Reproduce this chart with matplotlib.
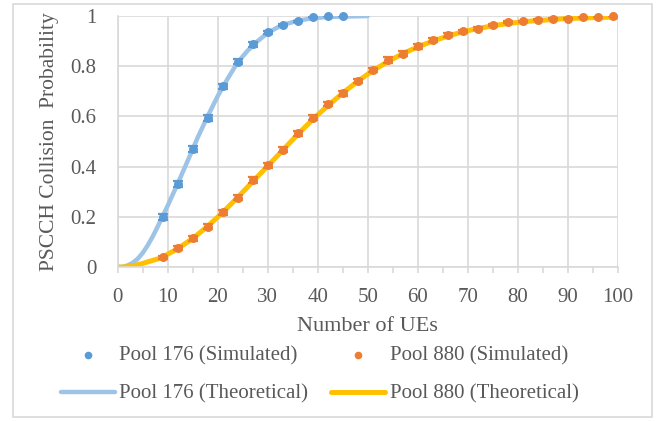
import matplotlib
matplotlib.use("Agg")
import matplotlib.pyplot as plt
from matplotlib.patches import FancyBboxPatch

# ---- data ----
sim176_x = [9, 12, 15, 18, 21, 24, 27, 30, 33, 36, 39, 42, 45]
sim176_y = [0.201, 0.331, 0.470, 0.595, 0.720, 0.818, 0.888, 0.935, 0.965, 0.979, 0.995, 1.0, 1.0]
sim176_err = [0.012, 0.012, 0.012, 0.012, 0.010, 0.010, 0.010, 0.006, 0.004, 0.003, 0.0, 0.0, 0.0]

sim880_x = [9, 12, 15, 18, 21, 24, 27, 30, 33, 36, 39, 42, 45, 48, 51, 54, 57, 60,
            63, 66, 69, 72, 75, 78, 81, 84, 87, 90, 93, 96, 99]
sim880_y = [0.039, 0.075, 0.115, 0.161, 0.219, 0.275, 0.345, 0.405, 0.467, 0.532,
            0.594, 0.650, 0.693, 0.742, 0.783, 0.824, 0.849, 0.879, 0.903, 0.926,
            0.939, 0.949, 0.966, 0.975, 0.979, 0.986, 0.990, 0.990, 0.995, 0.995, 1.0]
sim880_err = [0.006, 0.008, 0.010, 0.010, 0.010, 0.010, 0.012, 0.010, 0.010, 0.010,
              0.010, 0.008, 0.010, 0.008, 0.008, 0.012, 0.010, 0.010, 0.008, 0.008,
              0.006, 0.006, 0.004, 0.004, 0.003, 0.003, 0.002, 0.002, 0.0, 0.0, 0.0]

theo176_x = [0, 1, 2, 3, 4, 5, 6, 7, 8, 9, 10, 12, 14, 16, 18, 20, 22, 24, 26, 28,
             30, 32, 34, 36, 38, 40, 42, 45, 48, 50]
theo176_y = [0.0, 0.0, 0.006, 0.016, 0.032, 0.055, 0.085, 0.120, 0.160, 0.201, 0.243,
             0.331, 0.422, 0.515, 0.600, 0.680, 0.750, 0.815, 0.862, 0.900, 0.932,
             0.955, 0.970, 0.981, 0.988, 0.993, 0.996, 0.998, 0.999, 1.0]

theo880_x = [0, 1, 2, 3, 4, 5, 6, 7, 8, 9, 12, 15, 18, 21, 24, 27, 30, 33, 36, 39,
             42, 45, 48, 51, 54, 57, 60, 63, 66, 69, 72, 75, 78, 81, 84, 87, 90, 93,
             96, 100]
theo880_y = [0.0, 0.0, 0.001, 0.004, 0.009, 0.014, 0.020, 0.026, 0.032, 0.039, 0.073,
             0.113, 0.162, 0.217, 0.277, 0.340, 0.402, 0.465, 0.528, 0.588, 0.642,
             0.693, 0.740, 0.782, 0.818, 0.850, 0.877, 0.900, 0.920, 0.937, 0.950,
             0.961, 0.970, 0.977, 0.982, 0.986, 0.990, 0.992, 0.994, 0.996]

x_ticks = [0, 10, 20, 30, 40, 50, 60, 70, 80, 90, 100]
y_ticks = [0, 0.2, 0.4, 0.6, 0.8, 1.0]
y_tick_labels = ["0", "0.2", "0.4", "0.6", "0.8", "1"]

# ---- style ----
plt.rcParams['font.family'] = ['Liberation Serif', 'DejaVu Serif']
text_col = '#595959'
grid_col = '#D9D9D9'
c_sim176 = '#5B9BD5'
c_sim880 = '#ED7D31'
c_theo176 = '#9DC3E6'
c_theo880 = '#FFC000'

fig = plt.figure(figsize=(6.6, 4.21), dpi=100)
fig.patches.append(FancyBboxPatch((13 / 660, 4 / 421), 639 / 660, 413 / 421,
                                  boxstyle="square,pad=0", transform=fig.transFigure,
                                  facecolor='white', edgecolor=grid_col, linewidth=1.2,
                                  zorder=-1))
ax = fig.add_axes([117.5 / 660, (421 - 267) / 421, 500.5 / 660, 251 / 421])

l176, = ax.plot(theo176_x, theo176_y, color=c_theo176, lw=3.2, zorder=2,
                label='Pool 176 (Theoretical)', solid_capstyle='round')
l880, = ax.plot(theo880_x, theo880_y, color=c_theo880, lw=3.6, zorder=2,
                label='Pool 880 (Theoretical)', solid_capstyle='round')
ax.errorbar(sim176_x, sim176_y, yerr=sim176_err, fmt='none', ecolor=c_sim176,
            elinewidth=1.2, capsize=3.5, capthick=1.6, zorder=3)
ax.errorbar(sim880_x, sim880_y, yerr=sim880_err, fmt='none', ecolor=c_sim880,
            elinewidth=1.2, capsize=3.5, capthick=1.6, zorder=3)
s176 = ax.scatter(sim176_x, sim176_y, s=42, color=c_sim176, zorder=4, linewidths=0,
                  label='Pool 176 (Simulated)', clip_on=False)
s880 = ax.scatter(sim880_x, sim880_y, s=42, color=c_sim880, zorder=4, linewidths=0,
                  label='Pool 880 (Simulated)', clip_on=False)

ax.set_xlim(0, 100)
ax.set_ylim(0, 1)
ax.set_xticks(x_ticks)
ax.set_xticks([5, 15, 25, 35, 45, 55, 65, 75, 85, 95], minor=True)
ax.set_yticks(y_ticks)
ax.set_yticklabels(y_tick_labels)
ax.grid(True, which='major', color=grid_col, lw=1.2)
ax.set_axisbelow(True)
for side in ['top', 'right']:
    ax.spines[side].set_visible(False)
for side in ['left', 'bottom']:
    ax.spines[side].set_color(grid_col)
    ax.spines[side].set_linewidth(1.2)
ax.tick_params(axis='x', which='both', direction='out', length=4, color=grid_col,
               width=1.2, labelsize=15, labelcolor=text_col, pad=11)
ax.tick_params(axis='y', which='both', length=0, labelsize=15, labelcolor=text_col, pad=15)

ax.set_xlabel('Number of UEs', fontsize=16, color=text_col, labelpad=7)
ax.set_ylabel('PSCCH Collision  Probability', fontsize=15.5, color=text_col, labelpad=8)

leg = fig.legend(handles=[s176, l176, s880, l880], ncol=2, loc='center left',
                 bbox_to_anchor=(61 / 660, (421 - 375) / 421), frameon=False,
                 fontsize=15, labelcolor=text_col, handlelength=2.6,
                 handletextpad=0.2, columnspacing=1.1, labelspacing=0.9,
                 borderpad=0, borderaxespad=0, scatterpoints=1, markerscale=0.85)

fig.savefig('out.png', dpi=100)
